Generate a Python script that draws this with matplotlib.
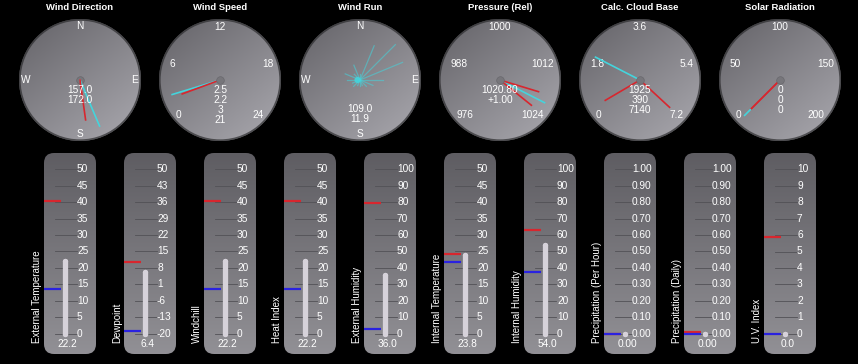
import numpy as np
import matplotlib
matplotlib.use("Agg")
import matplotlib.pyplot as plt
from matplotlib.patches import FancyBboxPatch, Circle
from matplotlib.transforms import blended_transform_factory

plt.rcParams['font.family'] = ['Liberation Sans', 'DejaVu Sans']

# ------------------------------------------------------------------ data
dial_titles = ["Wind Direction", "Wind Speed", "Wind Run",
               "Pressure (Rel)", "Calc. Cloud Base", "Solar Radiation"]

compass_labels = ["N", "E", "S", "W"]
compass_bearings = [0, 90, 180, 270]

wind_dir_now = 157.0
wind_dir_avg = 172.0
wind_dir_text = ["157.0", "172.0"]

wind_speed_ticks = [0, 6, 12, 18, 24]
wind_speed_now = 2.5
wind_speed_avg = 2.2
wind_speed_text = ["2.5", "2.2", "3", "21"]

wind_run_bearings = [0, 22.5, 45, 67.5, 90, 112.5, 135, 157.5,
                     180, 202.5, 225, 247.5, 270, 292.5, 315, 337.5]
wind_run_values = [6, 37, 50, 46, 23, 14, 9, 6, 6, 6, 9, 8, 13, 16, 8, 16]
wind_run_text = ["109.0", "11.9"]

pressure_ticks = [976, 988, 1000, 1012, 1024]
pressure_now = 1020.80
pressure_low = 1019.0
pressure_high = 1022.9
pressure_text = ["1020.80", "+1.00"]

cloud_ticks = [0, 1.8, 3.6, 5.4, 7.2]          # thousands of feet
cloud_now = 1.925
cloud_low = 0.390
cloud_high = 7.140
cloud_text = ["1925", "390", "7140"]

solar_ticks = [0, 50, 100, 150, 200]
solar_now = 0
solar_low = 0
solar_high = 0
solar_text = ["0", "0", "0"]

therm_labels = ["External Temperature", "Dewpoint", "Windchill", "Heat Index",
                "External Humidity", "Internal Temperature", "Internal Humidity",
                "Precipitation (Per Hour)", "Precipitation (Daily)", "U.V. Index"]
therm_min = [0, -20, 0, 0, 0, 0, 0, 0, 0, 0]
therm_max = [50, 50, 50, 50, 100, 50, 100, 1, 1, 10]
therm_tick_fmt = ["{:.0f}"] * 7 + ["{:.2f}", "{:.2f}", "{:.0f}"]
therm_value = [22.2, 6.4, 22.2, 22.2, 36.0, 23.8, 54.0, 0.0, 0.0, 0.0]
therm_value_text = ["22.2", "6.4", "22.2", "22.2", "36.0", "23.8", "54.0",
                    "0.00", "0.00", "0.0"]
therm_high = [40.5, 10.4, 40.5, 40.5, 79.5, 24.3, 62.9, 0.0, 0.01, 5.9]
therm_low = [13.6, -18.9, 13.6, 13.6, 2.7, 21.7, 37.5, 0.0, 0.0, 0.0]

# ------------------------------------------------------------------ style
W, H = 858, 364
RED = '#d8262e'
BLUE = '#2a22e0'
CYAN = '#44d4dc'
TUBE = '#d6d2da'
TXT = 'white'
NUM_FS = 7.3

# label slots around the 270-degree dials: (dx px, dy px, alignment)
ARC_SLOTS = [(-44, 35, 'left'), (-50, -16, 'left'), (0, -53, 'center'),
             (54, -16, 'right'), (44, 35, 'right')]

fig = plt.figure(figsize=(W / 100, H / 100), dpi=100, facecolor='black')

bg = fig.add_axes([0, 0, 1, 1])
bg.set_zorder(0)
bg.axis('off')


def grad_image(ax, extent, arr, clip):
    im = ax.imshow(arr, extent=extent, origin='upper', aspect='auto',
                   interpolation='bilinear', zorder=1)
    im.set_clip_path(clip)


# ------------------------------------------------------------------ dials
dial_cy, dial_r = 80, 61
dial_cx = [80 + 140 * i for i in range(6)]

n = 200
yy, xx = np.mgrid[0:n, 0:n] / (n - 1)
t = (0.45 * xx + 0.55 * yy)
c0 = np.array([0.39, 0.385, 0.405])
c1 = np.array([0.67, 0.665, 0.69])
disc_arr = c0 + (c1 - c0) * t[..., None]

pn = 100
tv = np.linspace(0, 1, pn)[:, None, None]
p0 = np.array([0.37, 0.365, 0.385])
p1 = np.array([0.57, 0.565, 0.585])
panel_arr = (p0 + (p1 - p0) * tv).repeat(2, axis=1)

for cx in dial_cx:
    circ = Circle((cx, dial_cy), dial_r, facecolor='none', edgecolor='none')
    bg.add_patch(circ)
    grad_image(bg, (cx - dial_r, cx + dial_r, dial_cy + dial_r, dial_cy - dial_r),
               disc_arr, circ)
    ring = Circle((cx, dial_cy), dial_r - 0.8, facecolor='none',
                  edgecolor='#2c2c2e', lw=1.2, alpha=0.7, zorder=2)
    bg.add_patch(ring)


def make_dial(i):
    cx = dial_cx[i]
    ax = fig.add_axes([(cx - dial_r) / W, 1 - (dial_cy + dial_r) / H,
                       2 * dial_r / W, 2 * dial_r / H], projection='polar')
    ax.set_zorder(1)
    ax.set_theta_zero_location('N')
    ax.set_theta_direction(-1)
    ax.set_ylim(0, 1)
    ax.axis('off')
    fig.text(cx / W, 1 - 7.5 / H, dial_titles[i], ha='center', va='center',
             color=TXT, fontsize=6.8, fontweight='bold')
    return ax


def arc_theta(v, lo, hi):
    return np.deg2rad(-135 + 270 * (v - lo) / (hi - lo))


def needles(ax, th_now, th_reds):
    ax.plot([th_now, th_now], [0, 0.82], color=CYAN, lw=1.2, zorder=3)
    for th in th_reds:
        ax.plot([th, th], [0, 0.66], color=RED, lw=1.2, zorder=4)


def hub(ax, z=5):
    ax.scatter([0], [0], s=30, color='#77767b', edgecolor='#69686d',
               lw=0.5, zorder=z)


def center_text(ax, lines, start_px):
    for k, s in enumerate(lines):
        ax.text(0.5, 0.5 - (start_px + 10 * k) / (2 * dial_r), s,
                transform=ax.transAxes, ha='center', va='center',
                color=TXT, fontsize=NUM_FS, zorder=6)


def arc_labels(ax, ticks):
    for tk, (dx, dy, ha) in zip(ticks, ARC_SLOTS):
        ax.text(0.5 + dx / (2 * dial_r), 0.5 - dy / (2 * dial_r), f"{tk:g}",
                transform=ax.transAxes, ha=ha, va='center',
                color=TXT, fontsize=NUM_FS)


def compass(ax):
    for lab, b in zip(compass_labels, compass_bearings):
        ax.text(np.deg2rad(b), 0.89, lab, ha='center', va='center', color=TXT,
                fontsize=NUM_FS)


# Wind direction
ax = make_dial(0)
compass(ax)
hub(ax, z=2)
needles(ax, np.deg2rad(wind_dir_now), [np.deg2rad(wind_dir_avg)])
center_text(ax, wind_dir_text, 10)

# Wind speed
ax = make_dial(1)
arc_labels(ax, wind_speed_ticks)
lo, hi = wind_speed_ticks[0], wind_speed_ticks[-1]
needles(ax, arc_theta(wind_speed_now, lo, hi), [arc_theta(wind_speed_avg, lo, hi)])
hub(ax)
center_text(ax, wind_speed_text, 10)

# Wind run
ax = make_dial(2)
compass(ax)
vmax = max(wind_run_values)
for b, v in zip(wind_run_bearings, wind_run_values):
    ax.plot([np.deg2rad(b)] * 2, [0, 0.82 * v / vmax], color=CYAN, lw=0.9,
            alpha=0.55, zorder=3)
ax.scatter([np.deg2rad(270)], [0.04], s=20, color=CYAN, edgecolor='none',
           alpha=0.9, zorder=4)
center_text(ax, wind_run_text, 29)

# Pressure
ax = make_dial(3)
arc_labels(ax, pressure_ticks)
lo, hi = pressure_ticks[0], pressure_ticks[-1]
needles(ax, arc_theta(pressure_now, lo, hi),
        [arc_theta(pressure_low, lo, hi), arc_theta(pressure_high, lo, hi)])
hub(ax)
center_text(ax, pressure_text, 10)

# Cloud base
ax = make_dial(4)
arc_labels(ax, cloud_ticks)
lo, hi = cloud_ticks[0], cloud_ticks[-1]
needles(ax, arc_theta(cloud_now, lo, hi),
        [arc_theta(cloud_low, lo, hi), arc_theta(cloud_high, lo, hi)])
hub(ax)
center_text(ax, cloud_text, 10)

# Solar radiation
ax = make_dial(5)
arc_labels(ax, solar_ticks)
lo, hi = solar_ticks[0], solar_ticks[-1]
needles(ax, arc_theta(solar_now, lo, hi),
        [arc_theta(solar_low, lo, hi), arc_theta(solar_high, lo, hi)])
hub(ax)
center_text(ax, solar_text, 10)

# ------------------------------------------------------------------ thermometers
pw, ph, ptop = 52, 201, 153
scale_top, scale_bot = 16.3, 20.3
span = ph - scale_top - scale_bot
label_x = [33, 33, 33, 33, 33, 33, 33, 28, 28, 33]

for i in range(len(therm_labels)):
    left = 44 + 80 * i
    box = FancyBboxPatch((left, ptop), pw, ph,
                         boxstyle="round,pad=0,rounding_size=10",
                         facecolor='none', edgecolor='none')
    bg.add_patch(box)
    grad_image(bg, (left, left + pw, ptop + ph, ptop), panel_arr, box)

    mn, mx = therm_min[i], therm_max[i]
    rng = mx - mn
    ax = fig.add_axes([left / W, 1 - (ptop + ph) / H, pw / W, ph / H])
    ax.set_zorder(1)
    ax.set_xlim(0, pw)
    ax.set_ylim(mn - scale_bot / span * rng, mx + scale_top / span * rng)
    ax.axis('off')
    trans = blended_transform_factory(ax.transData, ax.transAxes)

    ticks = np.linspace(mn, mx, 11)
    for tk in ticks:
        ax.plot([11, label_x[i] - 0.5], [tk, tk], color='#525156', lw=0.6, zorder=1)
        ax.text(label_x[i], tk, therm_tick_fmt[i].format(tk), ha='left',
                va='center', color=TXT, fontsize=NUM_FS, clip_on=False)

    ax.plot([21, 21], [mn, therm_value[i]], color=TUBE, lw=3.8,
            solid_capstyle='round', marker='o', ms=3.8, mew=0, zorder=3)
    ax.plot([0, 17], [therm_high[i]] * 2, color=RED, lw=1.6,
            solid_capstyle='butt', zorder=4)
    ax.plot([0, 17], [therm_low[i]] * 2, color=BLUE, lw=1.6,
            solid_capstyle='butt', zorder=5)

    ax.text(23.5, 0.05, therm_value_text[i], transform=trans, ha='center',
            va='center', color=TXT, fontsize=NUM_FS, clip_on=False)
    ax.text(-7, 0.055, therm_labels[i], transform=trans, rotation=90,
            ha='center', va='bottom', color=TXT, fontsize=7, clip_on=False)

bg.set_xlim(0, W)
bg.set_ylim(H, 0)

fig.savefig('out.png', dpi=100, facecolor='black')
